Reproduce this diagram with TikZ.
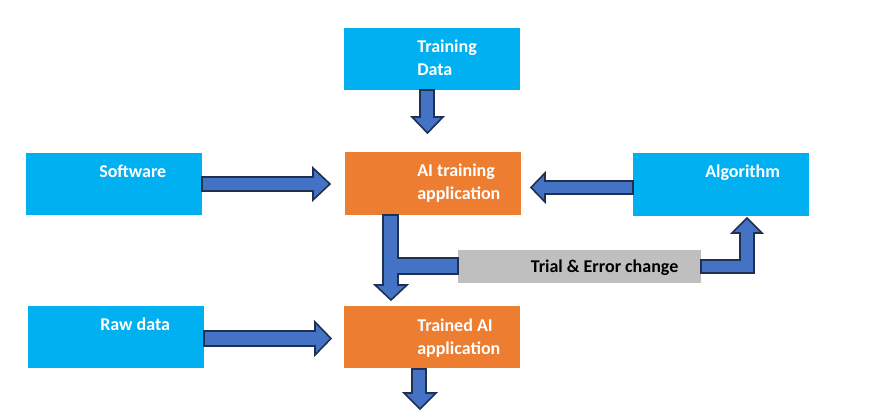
\documentclass[tikz,border=0pt]{standalone}
\usepackage{fontspec}
\setmainfont{Carlito}
\definecolor{cyanc}{HTML}{00B0F0}
\definecolor{orangec}{HTML}{ED7D31}
\definecolor{bluec}{HTML}{4472C4}
\definecolor{navyc}{HTML}{1F3050}
\definecolor{grayc}{HTML}{BFBFBF}
\begin{document}
\begin{tikzpicture}[x=0.75pt,y=-0.75pt,
  boxbase/.style={draw=none, inner sep=0pt, anchor=north west, minimum width=132pt, minimum height=46.5pt},
  cyanbox/.style={boxbase, fill=cyanc},
  orangebox/.style={boxbase, fill=orangec},
  graybox/.style={draw=none, inner sep=0pt, anchor=north west, fill=grayc, minimum width=182.25pt, minimum height=24.75pt},
  lbl/.style={anchor=base west, inner sep=0pt, align=left, text=white, font=\fontsize{13.5}{17.25}\selectfont\bfseries},
  blockarrow/.style={fill=bluec, draw=navyc, line width=1.2pt, line join=miter}
]
\useasboundingbox (0,0) rectangle (870,416);
% boxes
\node[cyanbox] (td) at (344,28) {};
\node[orangebox, minimum height=47.25pt] (ai) at (345,152) {};
\node[cyanbox] (sw) at (26,153) {};
\node[cyanbox, minimum height=47.25pt] (al) at (633,153) {};
\node[graybox] (te) at (458,250) {};
\node[cyanbox] (rd) at (28,306) {};
\node[orangebox] (tr) at (344,306) {};
% labels (base = baseline of last line)
\node[lbl] (tdt) at (417,75.5) {Training\\Data};
\node[lbl] (ait) at (417,200) {AI training\\application};
\node[lbl] (swt) at (99,177.5) {Software};
\node[lbl] (alt) at (705,177.5) {Algorithm};
\node[lbl, text=black] (tet) at (530.5,272.7) {Trial \& Error change};
\node[lbl] (rdt) at (100,330.5) {Raw data};
\node[lbl] (trt) at (417,354) {Trained AI\\application};
% block arrows
\draw[blockarrow] (420,90) -- (434,90) -- (434,117) -- (443,117) -- (427.5,133) -- (412,117) -- (420,117) -- cycle;
\draw[blockarrow] (202,177) -- (313,177) -- (313,168) -- (330,184) -- (313,200) -- (313,191) -- (202,191) -- cycle;
\draw[blockarrow] (633,181) -- (545,181) -- (545,173) -- (531,187.5) -- (545,202) -- (545,194) -- (633,194) -- cycle;
\draw[blockarrow] (383,215) -- (398,215) -- (398,258) -- (458,258) -- (458,274) -- (398,274) -- (398,285) -- (407,285) -- (391,300) -- (375,285) -- (383,285) -- cycle;
\draw[blockarrow] (701,260) -- (740,260) -- (740,233) -- (732,233) -- (747,218) -- (762,233) -- (754,233) -- (754,273) -- (701,273) -- cycle;
\draw[blockarrow] (204,331) -- (315,331) -- (315,322) -- (331,338.5) -- (315,355) -- (315,346) -- (204,346) -- cycle;
\draw[blockarrow] (412,369) -- (426,369) -- (426,393) -- (436,393) -- (420,409) -- (404,393) -- (412,393) -- cycle;
\end{tikzpicture}
\end{document}
